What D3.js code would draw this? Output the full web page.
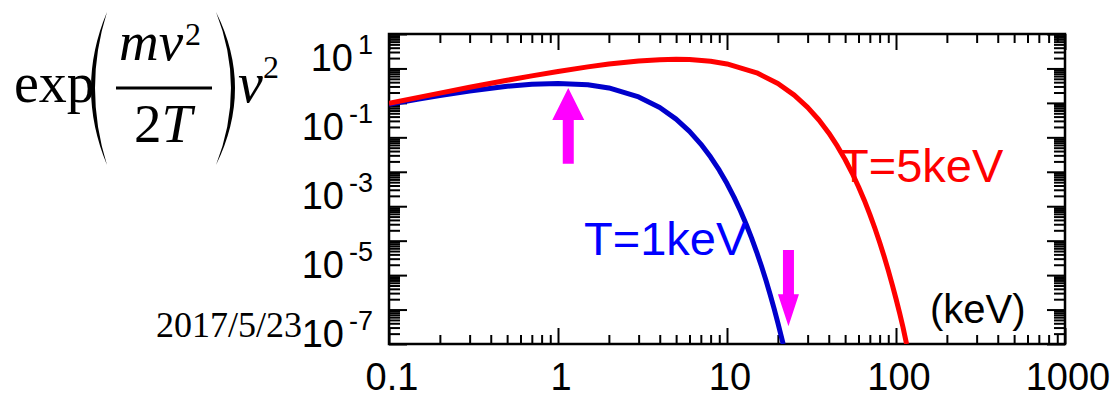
<!DOCTYPE html>
<html>
<head>
<meta charset="utf-8">
<title>Maxwell distribution</title>
<script src="https://d3js.org/d3.v7.min.js"></script>
<style>
  body { margin: 0; background: #fff; }
  svg { display: block; }
  .sans { font-family: "Liberation Sans", Arial, sans-serif; }
  .serif { font-family: "Liberation Serif", "Times New Roman", serif; }
</style>
</head>
<body>
<svg id="chart" width="1117" height="398"></svg>
<script>
// values (energy in keV, y on log scale)
const energyT1 = [0.1, 0.15, 0.2, 0.3, 0.5, 0.7, 1, 1.5, 2, 3, 4, 5, 6, 7, 8, 9, 10, 11, 12, 13, 14, 15, 16, 17, 18, 19, 20, 21, 21.5];
const valueT1  = [0.0905, 0.129, 0.164, 0.222, 0.303, 0.348, 0.368, 0.335, 0.271, 0.149, 0.0733, 0.0337, 0.0149, 6.38e-3, 2.68e-3, 1.11e-3, 4.54e-4, 1.84e-4, 7.37e-5, 2.94e-5, 1.16e-5, 4.59e-6, 1.8e-6, 7.04e-7, 2.74e-7, 1.06e-7, 4.12e-8, 1.59e-8, 1.0e-8];

const energyT5 = [0.1, 0.2, 0.3, 0.5, 0.7, 1, 1.5, 2, 3, 4, 5, 6, 8, 10, 15, 20, 25, 30, 35, 40, 45, 50, 55, 60, 65, 70, 75, 80, 85, 90, 95, 100, 105, 110, 115.5];
const valueT5  = [0.098, 0.192, 0.283, 0.452, 0.609, 0.819, 1.111, 1.341, 1.646, 1.797, 1.839, 1.807, 1.615, 1.353, 0.747, 0.366, 0.168, 0.0744, 0.0319, 0.0134, 5.55e-3, 2.27e-3, 9.18e-4, 3.69e-4, 1.47e-4, 5.82e-5, 2.29e-5, 9.0e-6, 3.52e-6, 1.37e-6, 5.32e-7, 2.06e-7, 7.96e-8, 3.07e-8, 1.0e-8];

const xTickLabels = ["0.1", "1", "10", "100", "1000"];
const xTickValues = [0.1, 1, 10, 100, 1000];
const yLabelValues = [1e1, 1e-1, 1e-3, 1e-5, 1e-7];
const yLabelExponents = ["1", "-1", "-3", "-5", "-7"];

// arrows: energy, tail value, tip value
const arrowEnergy = [1.15, 23.1];
const arrowTail = [1.7e-3, 5.4e-6];
const arrowTip = [0.27, 3.3e-8];

const svg = d3.select("#chart");

const x = d3.scaleLog().domain([0.1, 1000]).range([389, 1065]);
const y = d3.scaleLog().domain([1e-8, 10]).range([344, 34]);

const isDecade = v => Math.abs(Math.log10(v) - Math.round(Math.log10(v))) < 1e-6;
const xMinor = x.ticks().filter(v => !isDecade(v));
const xMajor = x.ticks().filter(isDecade);
const yMinor = y.ticks().filter(v => !isDecade(v));
const yMajor = y.ticks().filter(isDecade);

function tickGroup(axis, tx, ty) {
  svg.append("g")
    .attr("transform", `translate(${tx},${ty})`)
    .call(axis.tickFormat("").tickSizeOuter(0))
    .call(g => g.select(".domain").remove())
    .call(g => g.selectAll("line").attr("stroke", "#000").attr("stroke-width", 2));
}

// ticks on all four sides, pointing inward
tickGroup(d3.axisBottom(x).tickValues(xMinor).tickSize(-9), 0, 344);
tickGroup(d3.axisBottom(x).tickValues(xMajor).tickSize(-16), 0, 344);
tickGroup(d3.axisTop(x).tickValues(xMinor).tickSize(-9), 0, 34);
tickGroup(d3.axisTop(x).tickValues(xMajor).tickSize(-16), 0, 34);
tickGroup(d3.axisLeft(y).tickValues(yMinor).tickSize(-11), 389, 0);
tickGroup(d3.axisLeft(y).tickValues(yMajor).tickSize(-18), 389, 0);
tickGroup(d3.axisRight(y).tickValues(yMinor).tickSize(-11), 1065, 0);
tickGroup(d3.axisRight(y).tickValues(yMajor).tickSize(-18), 1065, 0);

// frame
svg.append("rect")
  .attr("x", x.range()[0]).attr("y", y.range()[1])
  .attr("width", x.range()[1] - x.range()[0])
  .attr("height", y.range()[0] - y.range()[1])
  .attr("fill", "none").attr("stroke", "#000").attr("stroke-width", 2.5);

// x labels
svg.append("g").attr("class", "sans")
  .selectAll("text").data(xTickValues).join("text")
  .attr("x", d => x(d) + 3).attr("y", 390)
  .attr("text-anchor", "middle").attr("font-size", 38)
  .text((d, i) => xTickLabels[i]);

// y labels (sit a little below their ticks, as in the original)
const yl = svg.append("g").attr("class", "sans")
  .selectAll("text").data(yLabelValues).join("text")
  .attr("x", 373).attr("y", d => y(d) + 37)
  .attr("text-anchor", "end").attr("font-size", 38);
yl.append("tspan").text("10");
yl.append("tspan").attr("dx", 5).attr("dy", -17).attr("font-size", 27)
  .text((d, i) => yLabelExponents[i]);

// curves
svg.append("defs").append("clipPath").attr("id", "plot")
  .append("rect").attr("x", 389).attr("y", 34).attr("width", 676).attr("height", 310);

const line = d3.line().x(d => x(d[0])).y(d => y(d[1]));
const curves = svg.append("g").attr("clip-path", "url(#plot)");
curves.append("path")
  .datum(d3.zip(energyT1, valueT1))
  .attr("d", line).attr("fill", "none")
  .attr("stroke", "#0000cc").attr("stroke-width", 5).attr("stroke-linejoin", "round");
curves.append("path")
  .datum(d3.zip(energyT5, valueT5))
  .attr("d", line).attr("fill", "none")
  .attr("stroke", "#ff0000").attr("stroke-width", 5).attr("stroke-linejoin", "round");

// arrows
const headW = [16, 10.5];
arrowEnergy.forEach((e, i) => {
  const cx = x(e), y0 = y(arrowTail[i]), y1 = y(arrowTip[i]);
  const dir = y1 > y0 ? 1 : -1;
  const hb = y1 - dir * 32, sw = 5.5, hw = headW[i];
  svg.append("path")
    .attr("d", `M${cx - sw},${y0}L${cx + sw},${y0}L${cx + sw},${hb}L${cx + hw},${hb}L${cx},${y1}L${cx - hw},${hb}L${cx - sw},${hb}Z`)
    .attr("fill", "#ff00ff");
});

// curve labels
svg.append("text").attr("class", "sans").attr("x", 584).attr("y", 255)
  .attr("font-size", 47).attr("fill", "#0000ff").text("T=1keV");
svg.append("text").attr("class", "sans").attr("x", 840).attr("y", 182)
  .attr("font-size", 47).attr("fill", "#ff0000").text("T=5keV");
svg.append("text").attr("class", "sans").attr("x", 930).attr("y", 323)
  .attr("font-size", 40).attr("fill", "#000").text("(keV)");

// formula at the left
const fm = svg.append("g").attr("class", "serif").attr("fill", "#000");
fm.append("text").attr("x", 14).attr("y", 102).attr("font-size", 56).text("exp");
fm.append("path").attr("d", "M107,12 Q75,88 107,165 Q83,88 107,12 Z");
fm.append("path").attr("d", "M216,12 Q254,88 216,165 Q246,88 216,12 Z");
fm.append("text").attr("x", 119).attr("y", 60).attr("font-size", 55)
  .attr("font-style", "italic").text("mv");
fm.append("text").attr("x", 185).attr("y", 45).attr("font-size", 32).text("2");
fm.append("line").attr("x1", 116).attr("x2", 212).attr("y1", 88).attr("y2", 88)
  .attr("stroke", "#000").attr("stroke-width", 3);
const den = fm.append("text").attr("x", 134).attr("y", 142).attr("font-size", 55);
den.append("tspan").text("2");
den.append("tspan").attr("font-style", "italic").text("T");
fm.append("text").attr("x", 238).attr("y", 102).attr("font-size", 56)
  .attr("font-style", "italic").text("v");
fm.append("text").attr("x", 263).attr("y", 78).attr("font-size", 32).text("2");

// date stamp
svg.append("text").attr("class", "serif").attr("x", 156).attr("y", 337)
  .attr("font-size", 36).text("2017/5/23");
</script>
</body>
</html>
